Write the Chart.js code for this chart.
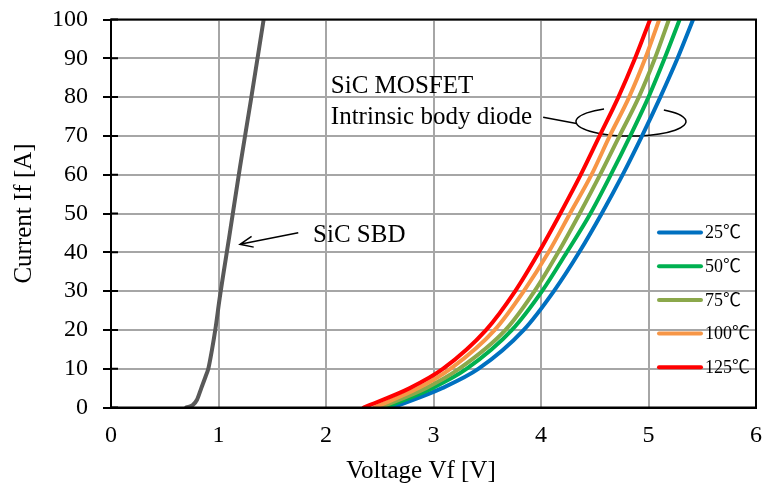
<!DOCTYPE html>
<html>
<head>
<meta charset="utf-8">
<script src="https://cdn.jsdelivr.net/npm/chart.js@4.4.0/dist/chart.umd.min.js"></script>
<style>
  html, body { margin: 0; padding: 0; background: #fff; }
  #wrap { width: 763px; height: 484px; }
</style>
</head>
<body>
<div id="wrap"><canvas id="vfChart" width="763" height="484"></canvas></div>
<script>
// Axis ticks
const xTickValues = [0, 1, 2, 3, 4, 5, 6];
const yTickValues = [0, 10, 20, 30, 40, 50, 60, 70, 80, 90, 100];

// Forward current steps (A) shared by the MOSFET body diode curves
const currentSteps = [0, 5, 10, 20, 30, 40, 50, 60, 70, 80, 90, 100];

// Body diode Vf (V) at each current step, per junction temperature
const tempLabels = ['25℃', '50℃', '75℃', '100℃', '125℃'];
const vf25  = [2.62, 3.08, 3.42, 3.84, 4.12, 4.355, 4.565, 4.76, 4.94, 5.11, 5.27, 5.415];
const vf50  = [2.55, 2.99, 3.31, 3.73, 4.01, 4.24, 4.46, 4.65, 4.83, 5.00, 5.15, 5.29];
const vf75  = [2.50, 2.93, 3.24, 3.67, 3.94, 4.16, 4.36, 4.55, 4.73, 4.91, 5.06, 5.19];
const vf100 = [2.45, 2.86, 3.16, 3.57, 3.84, 4.07, 4.27, 4.47, 4.64, 4.82, 4.97, 5.10];
const vf125 = [2.35, 2.78, 3.09, 3.49, 3.76, 3.98, 4.18, 4.37, 4.545, 4.72, 4.875, 5.015];

// SiC SBD curve
const sbdVoltage = [0.70, 0.76, 0.80, 0.84, 0.88, 0.905, 0.94, 0.97, 1.01, 1.10, 1.20, 1.30, 1.42];
const sbdCurrent = [0, 0.6, 2, 5, 8, 10, 15, 20, 28, 44, 62, 79, 100];

const tempColors = ['#0070C0', '#00B050', '#8BA84B', '#F79646', '#FF0000'];
const serif = "'Liberation Serif', 'Times New Roman', serif";
const degFont = "'Liberation Serif', 'Noto Sans CJK JP', serif";

const toPoints = (xs, ys) => xs.map((v, i) => ({ x: v, y: ys[i] }));

const mosfetSets = [vf25, vf50, vf75, vf100, vf125].map((vf, i) => ({
  label: tempLabels[i],
  data: toPoints(vf, currentSteps),
  borderColor: tempColors[i],
  borderWidth: 4,
  borderCapStyle: 'round',
  showLine: true,
  pointRadius: 0,
  cubicInterpolationMode: 'monotone',
  order: 4 - i
}));

const sbdSet = {
  label: 'SiC SBD',
  data: toPoints(sbdVoltage, sbdCurrent),
  borderColor: '#595959',
  borderWidth: 4,
  borderCapStyle: 'round',
  showLine: true,
  pointRadius: 0,
  cubicInterpolationMode: 'monotone',
  order: 5
};

// no extra label padding: the plot area is set by layout padding only
const noPad = s => { s.paddingTop = 0; s.paddingBottom = 0; s.paddingLeft = 0; s.paddingRight = 0; };

// Frame, notes and the in-plot legend
const overlayPlugin = {
  id: 'overlay',
  beforeDatasetsDraw(chart) {
    // ellipse around the MOSFET curves sits under the lines
    const { ctx, scales: { x, y } } = chart;
    ctx.save();
    ctx.strokeStyle = '#000';
    ctx.lineWidth = 1.5;
    ctx.beginPath();
    ctx.moveTo(x.getPixelForValue(4.02), y.getPixelForValue(74.8));
    ctx.lineTo(x.getPixelForValue(4.33), y.getPixelForValue(73.2));
    ctx.stroke();
    ctx.beginPath();
    ctx.ellipse(x.getPixelForValue(4.837), y.getPixelForValue(73.7), 55, 14.5, 0, -0.93, 4.2);
    ctx.stroke();
    ctx.restore();
  },
  afterDatasetsDraw(chart) {
    const { ctx, chartArea: a, scales: { x, y } } = chart;
    ctx.save();
    ctx.strokeStyle = '#000';
    ctx.lineWidth = 2;
    ctx.strokeRect(a.left, a.top, a.right - a.left, a.bottom - a.top);

    // y tick marks cross the axis
    ctx.beginPath();
    yTickValues.forEach(v => {
      const py = y.getPixelForValue(v);
      ctx.moveTo(a.left, py);
      ctx.lineTo(a.left + 7, py);
    });
    ctx.stroke();

    // MOSFET note
    ctx.fillStyle = '#000';
    ctx.font = '25px ' + serif;
    ctx.textBaseline = 'alphabetic';
    ctx.textAlign = 'left';
    ctx.fillText('SiC MOSFET', x.getPixelForValue(2.045), y.getPixelForValue(81));
    ctx.fillText('Intrinsic body diode', x.getPixelForValue(2.045), y.getPixelForValue(73));

    // SBD note with arrow
    ctx.lineWidth = 1.5;
    ctx.fillText('SiC SBD', x.getPixelForValue(1.88), y.getPixelForValue(42.7));
    const x0 = x.getPixelForValue(1.742), y0 = y.getPixelForValue(45.05);
    const x1 = x.getPixelForValue(1.2), y1 = y.getPixelForValue(42.06);
    const ang = Math.atan2(y1 - y0, x1 - x0);
    ctx.beginPath();
    ctx.moveTo(x0, y0);
    ctx.lineTo(x1, y1);
    ctx.moveTo(x1 - 14 * Math.cos(ang - 0.4), y1 - 14 * Math.sin(ang - 0.4));
    ctx.lineTo(x1, y1);
    ctx.lineTo(x1 - 14 * Math.cos(ang + 0.4), y1 - 14 * Math.sin(ang + 0.4));
    ctx.stroke();

    // legend
    ctx.font = '18px ' + degFont;
    ctx.textBaseline = 'middle';
    mosfetSets.forEach((ds, i) => {
      const ly = a.top + 213 + i * 33.7;
      ctx.strokeStyle = ds.borderColor;
      ctx.lineWidth = 4;
      ctx.lineCap = 'round';
      ctx.beginPath();
      ctx.moveTo(a.right - 97, ly);
      ctx.lineTo(a.right - 55, ly);
      ctx.stroke();
      ctx.fillText(ds.label, a.right - 51, ly + 1);
    });
    ctx.restore();
  }
};

new Chart(document.getElementById('vfChart'), {
  type: 'scatter',
  data: { datasets: [...mosfetSets, sbdSet] },
  options: {
    responsive: false,
    devicePixelRatio: 1,
    animation: false,
    layout: { padding: { top: 19.5, right: 7, left: 0, bottom: 0 } },
    plugins: { legend: { display: false }, tooltip: { enabled: false } },
    scales: {
      x: {
        type: 'linear',
        min: 0, max: 6,
        afterBuildTicks: s => { s.ticks = xTickValues.map(v => ({ value: v })); },
        afterFit: s => { s.height = 76.5; noPad(s); },
        grid: { color: '#a6a6a6', lineWidth: 2, drawTicks: false },
        border: { color: '#000', width: 2 },
        ticks: { color: '#000', font: { family: serif, size: 24 }, padding: 14 },
        title: {
          display: true,
          text: 'Voltage Vf [V]    ',
          color: '#000',
          font: { family: serif, size: 25 },
          padding: { top: 0, bottom: -2 }
        }
      },
      y: {
        type: 'linear',
        min: 0, max: 100,
        afterBuildTicks: s => { s.ticks = yTickValues.map(v => ({ value: v })); },
        afterFit: s => { s.width = 111; noPad(s); },
        grid: { color: '#a6a6a6', lineWidth: 2, tickColor: '#000', tickLength: 8, tickWidth: 2 },
        border: { color: '#000', width: 2 },
        ticks: { color: '#000', font: { family: serif, size: 24 }, padding: 15 },
        title: {
          display: true,
          text: 'Current If [A]',
          color: '#000',
          font: { family: serif, size: 25 },
          padding: { top: 9, bottom: 0 }
        }
      }
    }
  },
  plugins: [overlayPlugin]
});
</script>
</body>
</html>
